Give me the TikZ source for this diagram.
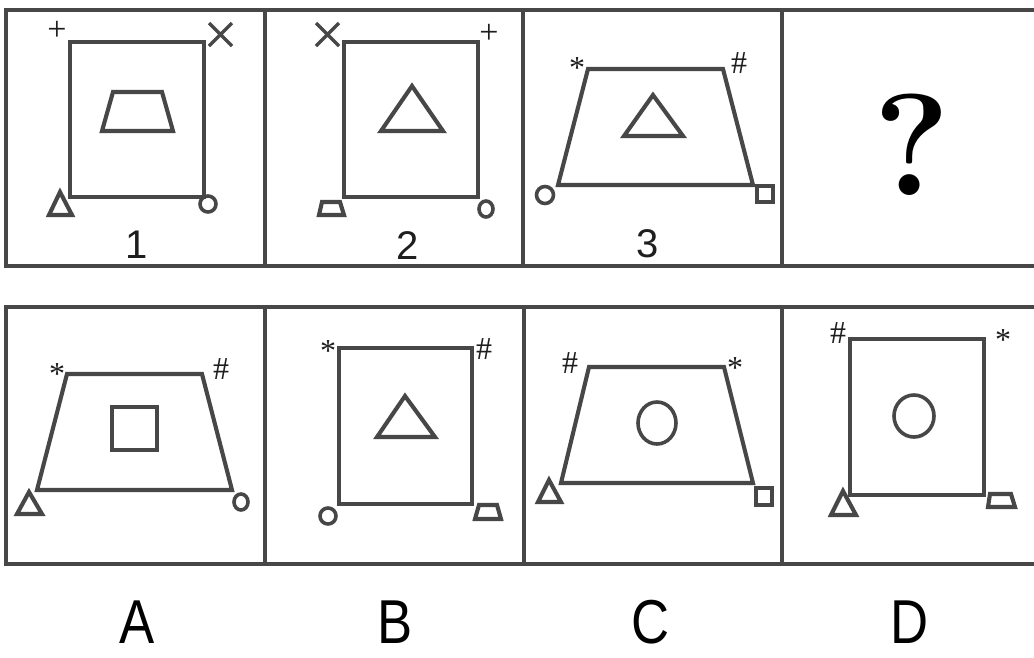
\documentclass[tikz,border=0pt]{standalone}
\usepackage{fontspec}
\newfontfamily\symfont{Liberation Serif}
\newfontfamily\lblfont{Liberation Sans}
\definecolor{ln}{HTML}{474747}
\definecolor{tx}{HTML}{1E1E1E}
\tikzset{
  frame/.style={draw=ln,line width=4.4pt},
  shp/.style={draw=ln,line width=4.1pt,line join=miter},
  thin/.style={draw=ln,line width=3.6pt},
  crs/.style={draw=ln,line width=3.4pt},
  sym/.style={inner sep=0pt,anchor=base,text=tx,font=\symfont\fontsize{32}{32}\selectfont},
  plus/.style={inner sep=0pt,anchor=base,text=tx,font=\symfont\fontsize{34}{34}\selectfont},
  num/.style={inner sep=0pt,anchor=base,text=tx,font=\lblfont\fontsize{40}{40}\selectfont},
  opt/.style={inner sep=0pt,anchor=base,text=black,xscale=0.85,font=\lblfont\fontsize{62}{62}\selectfont},
}
\begin{document}
\begin{tikzpicture}[x=1pt,y=-1pt]
\useasboundingbox (0,0) rectangle (1034,657);
\fill[white] (0,0) rectangle (1034,657);
% frames
\draw[frame] (6,10) rectangle (1045,266);
\draw[frame] (265,10) -- (265,266) (523,10) -- (523,266) (782,10) -- (782,266);
\draw[frame] (6,307) rectangle (1045,564);
\draw[frame] (265,307) -- (265,564) (524,307) -- (524,564) (782,307) -- (782,564);
% ---- panel 1
\draw[shp] (70,42) rectangle (204,197);
\draw[shp] (113,92) -- (162,92) -- (173,131) -- (102,131) -- cycle;
\draw[shp] (60,192) -- (72,215) -- (49,215) -- cycle;
\draw[thin] (208,204) circle (8);
\draw[crs] (209,23) -- (232,46) (232,23) -- (209,46);
\node[plus] (p1plus) at (57,40.5) {+};
\node[num] (n1) at (137,258) {1};
% ---- panel 2
\draw[shp] (344,42) rectangle (478,197);
\draw[shp] (412,86) -- (443,131) -- (381,131) -- cycle;
\draw[shp] (322,202) -- (340,202) -- (344,215) -- (319,215) -- cycle;
\draw[thin] (486,209) ellipse (7 and 8);
\draw[crs] (316,23) -- (339,46) (339,23) -- (316,46);
\node[plus] (p2plus) at (489,43.5) {+};
\node[num] (n2) at (408,259) {2};
% ---- panel 3
\draw[shp] (588,69) -- (723,69) -- (753,185) -- (558,185) -- cycle;
\draw[shp] (653,95) -- (683,136) -- (624,136) -- cycle;
\draw[thin] (545,195) circle (8.5);
\draw[shp] (757,186) rectangle (773,202);
\node[sym] (p3star) at (577,78) {*};
\node[sym] (p3hash) at (739,73) {\#};
\node[num] (n3) at (648,257) {3};
% ---- panel 4
\node[inner sep=0pt,anchor=base,text=black,font=\bfseries\fontsize{145}{145}\selectfont] (qm) at (912,195) {?};
% ---- A
\draw[shp] (67,374) -- (202,374) -- (232,490) -- (37,490) -- cycle;
\draw[shp] (112,407) rectangle (157,450);
\draw[shp] (29,492) -- (42,514) -- (17,514) -- cycle;
\draw[thin] (241,502) ellipse (7 and 8);
\node[sym] (astar) at (57,384) {*};
\node[sym] (ahash) at (221,379) {\#};
% ---- B
\draw[shp] (339,348) rectangle (472,504);
\draw[shp] (405,396) -- (435,437) -- (377,437) -- cycle;
\draw[thin] (328,516) circle (8);
\draw[shp] (479,505) -- (497,505) -- (501,519) -- (475,519) -- cycle;
\node[sym] (bstar) at (328,361) {*};
\node[sym] (bhash) at (484,359) {\#};
% ---- C
\draw[shp] (589,367) -- (724,367) -- (753,483) -- (561,483) -- cycle;
\draw[thin] (657,423) ellipse (19 and 21);
\draw[shp] (549,480) -- (561,502) -- (538,502) -- cycle;
\draw[shp] (756,488) rectangle (772,505);
\node[sym] (chash) at (570,373) {\#};
\node[sym] (cstar) at (735,378) {*};
% ---- D
\draw[shp] (850,339) rectangle (984,495);
\draw[thin] (914,416) ellipse (20 and 21);
\draw[shp] (843,491) -- (856,515) -- (831,515) -- cycle;
\draw[shp] (990,494) -- (1011,494) -- (1015,507) -- (988,507) -- cycle;
\node[sym] (dhash) at (838,343) {\#};
\node[sym] (dstar) at (1003,350) {*};
% ---- option letters
\node[opt] (la) at (137,643) {A};
\node[opt] (lb) at (395,643) {B};
\node[opt] (lc) at (651,643) {C};
\node[opt] (ld) at (910,643) {D};
\end{tikzpicture}
\end{document}
